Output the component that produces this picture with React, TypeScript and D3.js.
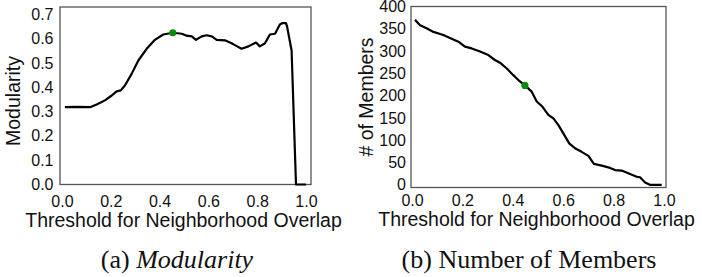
import React, { useEffect, useRef } from 'react';
import * as d3 from 'd3';

// (a) modularity vs threshold
const modThreshold = [
  0.012, 0.06, 0.115, 0.142, 0.176, 0.204, 0.224, 0.241, 0.258, 0.286, 0.313, 0.347, 0.381, 0.415,
  0.454, 0.491, 0.511, 0.532, 0.549, 0.573, 0.593, 0.614, 0.634, 0.668, 0.695, 0.716, 0.736, 0.764,
  0.795, 0.811, 0.832, 0.852, 0.873, 0.893, 0.904, 0.918, 0.923, 0.941, 0.959, 1.0,
];
const modularity = [
  0.318, 0.319, 0.318, 0.329, 0.346, 0.366, 0.383, 0.387, 0.407, 0.456, 0.51, 0.558, 0.595, 0.617,
  0.624, 0.62, 0.612, 0.609, 0.595, 0.609, 0.614, 0.609, 0.595, 0.593, 0.581, 0.569, 0.558, 0.568,
  0.584, 0.568, 0.581, 0.617, 0.62, 0.658, 0.664, 0.664, 0.647, 0.551, 0, 0,
];

// (b) number of members vs threshold
const membThreshold = [
  0.012, 0.032, 0.058, 0.085, 0.124, 0.164, 0.184, 0.21, 0.237, 0.27, 0.303, 0.329, 0.349, 0.376,
  0.402, 0.422, 0.448, 0.475, 0.495, 0.518, 0.541, 0.561, 0.581, 0.6, 0.624, 0.647, 0.673, 0.7,
  0.722, 0.753, 0.786, 0.806, 0.832, 0.858, 0.892, 0.905, 0.925, 0.944, 0.991,
];
const members = [
  370, 358, 351, 343, 336, 326, 321, 310, 306, 299, 291, 280, 274, 261, 246, 235, 223, 209, 187,
  175, 157, 149, 134, 116, 93, 82, 74, 65, 47, 43, 38, 33, 32, 26, 18, 17, 5, 0, 0,
];

const xTicks = [0, 0.2, 0.4, 0.6, 0.8, 1.0];
const modTicks = [0, 0.1, 0.2, 0.3, 0.4, 0.5, 0.6, 0.7];
const memberTicks = [0, 50, 100, 150, 200, 250, 300, 350, 400];

const selectedThreshold = [0.454, 0.448];
const selectedValue = [0.624, 223];

const SANS = '"Liberation Sans", Arial, sans-serif';
const SERIF = '"Liberation Serif", "Times New Roman", serif';

interface PanelProps {
  xs: number[];
  ys: number[];
  xDomain: [number, number];
  yDomain: [number, number];
  box: { left: number; right: number; top: number; bottom: number };
  yTicks: number[];
  yFormat: string;
  yLabel: string;
  yLabelPos: { x: number; y: number };
  xLabelY: number;
  xPad: number;
  yPad: number;
  dot: [number, number];
}

function Panel(p: PanelProps) {
  const gRef = useRef<SVGGElement | null>(null);

  useEffect(() => {
    const g = d3.select(gRef.current!);
    g.selectAll('*').remove();
    const { left, right, top, bottom } = p.box;

    const x = d3.scaleLinear().domain(p.xDomain).range([left, right]);
    const y = d3.scaleLinear().domain(p.yDomain).range([bottom, top]);

    g.append('rect')
      .attr('x', left)
      .attr('y', top)
      .attr('width', right - left)
      .attr('height', bottom - top)
      .attr('fill', 'white')
      .attr('stroke', '#555')
      .attr('stroke-width', 1.3);

    const xAxis = g
      .append('g')
      .attr('transform', `translate(0,${bottom})`)
      .call(d3.axisBottom(x).tickValues(xTicks).tickFormat(d3.format('.1f')).tickSize(0).tickPadding(p.xPad));
    const yAxis = g
      .append('g')
      .attr('transform', `translate(${left},0)`)
      .call(d3.axisLeft(y).tickValues(p.yTicks).tickFormat(d3.format(p.yFormat)).tickSize(0).tickPadding(p.yPad));
    [xAxis, yAxis].forEach((a) => {
      a.select('.domain').remove();
      a.selectAll('text').attr('font-family', SANS).attr('font-size', 16).attr('fill', '#111');
    });

    const pts = p.xs.map((v, i) => [v, p.ys[i]] as [number, number]);
    const line = d3
      .line<[number, number]>()
      .x((d) => x(d[0]))
      .y((d) => y(d[1]));
    g.append('path')
      .attr('d', line(pts))
      .attr('fill', 'none')
      .attr('stroke', '#000')
      .attr('stroke-width', 2.2)
      .attr('stroke-linejoin', 'round');

    g.append('circle')
      .attr('cx', x(p.dot[0]))
      .attr('cy', y(p.dot[1]))
      .attr('r', 3.6)
      .attr('fill', '#0a8a0a');

    g.append('text')
      .attr('x', (left + right) / 2 - 2)
      .attr('y', p.xLabelY)
      .attr('text-anchor', 'middle')
      .attr('font-family', SANS)
      .attr('font-size', 19.5)
      .attr('fill', '#111')
      .text('Threshold for Neighborhood Overlap');

    g.append('text')
      .attr('transform', `translate(${p.yLabelPos.x},${p.yLabelPos.y}) rotate(-90)`)
      .attr('text-anchor', 'middle')
      .attr('font-family', SANS)
      .attr('font-size', 19.5)
      .attr('fill', '#111')
      .text(p.yLabel);
  }, [p]);

  return <g ref={gRef} />;
}

export default function App() {
  return (
    <svg
      width={702}
      height={277}
      style={{ position: 'absolute', left: 0, top: 0, background: 'white' }}
    >
      <Panel
        xs={modThreshold}
        ys={modularity}
        xDomain={[-0.008, 1.0205]}
        yDomain={[0, 0.73]}
        box={{ left: 60, right: 311, top: 7, bottom: 184.5 }}
        yTicks={modTicks}
        yFormat=".1f"
        yLabel="Modularity"
        yLabelPos={{ x: 19.5, y: 101 }}
        xLabelY={227}
        xPad={11}
        yPad={6.5}
        dot={[selectedThreshold[0], selectedValue[0]]}
      />
      <Panel
        xs={membThreshold}
        ys={members}
        xDomain={[-0.004, 1.008]}
        yDomain={[-6, 400]}
        box={{ left: 411, right: 666, top: 6.5, bottom: 187.5 }}
        yTicks={memberTicks}
        yFormat="d"
        yLabel="# of Members"
        yLabelPos={{ x: 373, y: 97 }}
        xLabelY={225.5}
        xPad={7}
        yPad={5}
        dot={[selectedThreshold[1], selectedValue[1]]}
      />
      <text x={177} y={268} textAnchor="middle" fontFamily={SERIF} fontSize={26} fill="#111">
        (a) <tspan fontStyle="italic">Modularity</tspan>
      </text>
      <text x={529} y={268} textAnchor="middle" fontFamily={SERIF} fontSize={26} fill="#111">
        (b) Number of Members
      </text>
    </svg>
  );
}
